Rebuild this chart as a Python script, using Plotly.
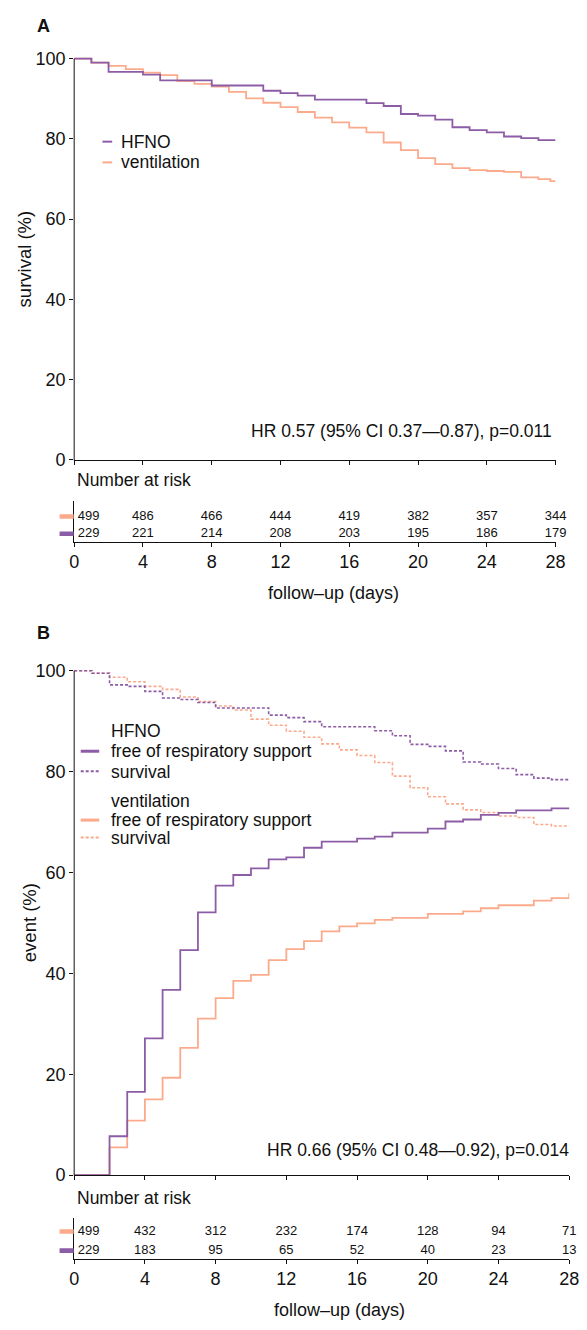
import plotly.graph_objects as go

W, H = 587, 1330
PURPLE = "#8D5CA6"
ORANGE = "#FCAA8C"
FONT = "Liberation Sans, Arial, sans-serif"
BLACK = "#111111"

day_ticks = [0, 4, 8, 12, 16, 20, 24, 28]
pct_ticks = [0, 20, 40, 60, 80, 100]

# ---------------- Panel A: survival ----------------
a_hfno_t = [0, 1, 2, 4, 5, 8, 11, 12, 13, 14, 17, 18, 19, 20, 21, 22, 23, 24, 25, 26, 27, 28]
a_hfno_s = [100, 99.0, 96.7, 96.0, 94.6, 93.3, 92.0, 91.4, 90.8, 89.8, 88.9, 88.2, 86.2,
            85.8, 84.8, 82.9, 82.2, 81.6, 80.6, 80.2, 79.7, 79.7]

a_vent_t = [0, 1, 2, 3, 4, 5, 6, 7, 8, 9, 10, 11, 12, 13, 14, 15, 16, 17, 18, 19, 20,
            21, 22, 23, 24, 25, 26, 27, 27.7, 28]
a_vent_s = [100, 99.0, 98.2, 97.4, 96.5, 95.9, 94.4, 93.7, 93.0, 91.7, 90.1, 89.0, 87.9,
            86.7, 85.3, 84.1, 82.8, 81.6, 79.1, 77.2, 75.2, 73.7, 72.7, 72.2, 72.0, 71.8,
            70.4, 70.0, 69.5, 69.5]

a_risk_vent = [499, 486, 466, 444, 419, 382, 357, 344]
a_risk_hfno = [229, 221, 214, 208, 203, 195, 186, 179]
a_hr_text = "HR 0.57 (95% CI 0.37\u20140.87), p=0.011"

# ---------------- Panel B: event ----------------
b_hfno_surv_t = [0, 1, 2, 3, 4, 5, 6, 7, 8, 11, 12, 13, 14, 17, 18, 19, 20, 21, 22, 23,
                 24, 25, 26, 27, 28]
b_hfno_surv = [100, 99.5, 97.2, 96.9, 95.9, 94.6, 94.3, 93.7, 92.6, 91.2, 90.7, 89.9,
               88.9, 88.1, 87.1, 85.4, 85.0, 84.1, 81.9, 81.5, 80.6, 79.4, 78.7, 78.4, 78.4]

b_vent_surv_t = list(range(0, 29))
b_vent_surv = [100, 99.5, 98.7, 97.8, 96.9, 96.3, 94.8, 93.9, 93.0, 92.2, 90.4, 89.2,
               88.0, 86.8, 85.5, 84.3, 83.2, 81.8, 79.1, 76.8, 75.0, 73.6, 72.4, 71.9,
               71.2, 70.9, 69.5, 69.2, 69.2]

b_hfno_free_t = [0, 2, 3, 4, 5, 6, 7, 8, 9, 10, 11, 12, 13, 14, 16, 17, 18, 20, 21, 22,
                 23, 24, 25, 27, 28]
b_hfno_free = [0, 7.7, 16.5, 27.1, 36.7, 44.6, 52.1, 57.4, 59.5, 60.8, 62.6, 63.0, 64.9,
               66.1, 66.7, 67.1, 67.9, 68.7, 70.1, 70.5, 71.4, 71.8, 72.3, 72.7, 72.9]

b_vent_free_t = [0, 2, 3, 4, 5, 6, 7, 8, 9, 10, 11, 12, 13, 14, 15, 16, 17, 18, 20, 22,
                 23, 24, 26, 27, 28]
b_vent_free = [0, 5.5, 10.8, 15.0, 19.3, 25.2, 31.0, 35.1, 38.5, 39.7, 42.6, 44.8, 46.4,
               48.3, 49.3, 49.9, 50.6, 51.0, 51.8, 52.3, 52.9, 53.5, 54.4, 54.9, 55.9]

b_risk_vent = [499, 432, 312, 232, 174, 128, 94, 71]
b_risk_hfno = [229, 183, 95, 65, 52, 40, 23, 13]
b_hr_text = "HR 0.66 (95% CI 0.48\u20140.92), p=0.014"


def fx(p):
    return p / W


def fy(p):
    return 1 - p / H


fig = go.Figure()


def curve(x, y, color, xa, ya, dash="solid", width=1.8):
    fig.add_trace(go.Scatter(
        x=x, y=y, mode="lines",
        line=dict(color=color, width=width, shape="hv", dash=dash),
        xaxis=xa, yaxis=ya, showlegend=False, hoverinfo="skip"))


def risk_rows(vent, hfno, xa, ya):
    pos = ["middle right"] + ["middle center"] * (len(day_ticks) - 1)
    for vals, row in ((vent, 2), (hfno, 1)):
        labels = [("\u00a0" if i == 0 else "") + str(v) for i, v in enumerate(vals)]
        fig.add_trace(go.Scatter(
            x=day_ticks, y=[row] * len(day_ticks), mode="text",
            text=labels, textposition=pos,
            textfont=dict(size=13, color=BLACK, family=FONT),
            xaxis=xa, yaxis=ya, showlegend=False, hoverinfo="skip", cliponaxis=False))


# Panel A curves
curve(a_vent_t, a_vent_s, ORANGE, "x", "y")
curve(a_hfno_t, a_hfno_s, PURPLE, "x", "y")
risk_rows(a_risk_vent, a_risk_hfno, "x2", "y2")

# Panel B curves
curve(b_vent_surv_t, b_vent_surv, ORANGE, "x3", "y3", dash="3px,2px", width=1.6)
curve(b_hfno_surv_t, b_hfno_surv, PURPLE, "x3", "y3", dash="3px,2px", width=1.6)
curve(b_vent_free_t, b_vent_free, ORANGE, "x3", "y3")
curve(b_hfno_free_t, b_hfno_free, PURPLE, "x3", "y3")
risk_rows(b_risk_vent, b_risk_hfno, "x4", "y4")

FS = 18
TS = 17.5
tickfont = dict(size=FS, color=BLACK, family=FONT)

main_x = dict(range=[0, 28], tickvals=day_ticks, ticks="outside", ticklen=4,
              tickcolor=BLACK, showticklabels=False, showline=True, linecolor=BLACK,
              linewidth=1, showgrid=False, zeroline=False, fixedrange=True)
main_y = dict(range=[0, 101], tickvals=pct_ticks, ticks="outside", ticklen=4,
              tickcolor=BLACK, tickfont=tickfont, showline=False, showgrid=False,
              zeroline=False, fixedrange=True)
tab_x = dict(range=[0, 28], tickvals=day_ticks, ticks="outside", ticklen=4,
             tickcolor=BLACK, tickfont=tickfont, showline=True, linecolor=BLACK,
             linewidth=1, showgrid=False, zeroline=False, fixedrange=True)
tab_y = dict(showticklabels=False, ticks="", showline=True, linecolor=BLACK, linewidth=1,
             showgrid=False, zeroline=False, fixedrange=True)

# pixel geometry
A_L, A_R = 71, 565
A_TOP, A_BOT = 49.2, 459.5
AT_TOP, AT_BOT = 501, 542.3
B_L, B_R = 71, 579
B_TOP, B_BOT = 667.7, 1183.3
BT_TOP, BT_BOT = 1227, 1268

fig.update_layout(
    width=W, height=H, margin=dict(l=0, r=0, t=0, b=0),
    paper_bgcolor="white", plot_bgcolor="white",
    font=dict(family=FONT, color=BLACK, size=FS),
    xaxis=dict(main_x, domain=[fx(A_L), fx(A_R)], anchor="y"),
    yaxis=dict(main_y, domain=[fy(A_BOT), fy(A_TOP)], anchor="x"),
    xaxis2=dict(tab_x, domain=[fx(A_L), fx(A_R)], anchor="y2"),
    yaxis2=dict(tab_y, domain=[fy(AT_BOT), fy(AT_TOP)], anchor="x2", range=[0.545, 2.89]),
    xaxis3=dict(main_x, domain=[fx(B_L), fx(B_R)], anchor="y3"),
    yaxis3=dict(main_y, domain=[fy(B_BOT), fy(B_TOP)], anchor="x3"),
    xaxis4=dict(tab_x, domain=[fx(B_L), fx(B_R)], anchor="y4"),
    yaxis4=dict(tab_y, domain=[fy(BT_BOT), fy(BT_TOP)], anchor="x4", range=[0.575, 2.70]),
)

shapes = []
# y-axis lines (from 0 to 100)
shapes.append(dict(type="line", xref="paper", yref="paper", x0=fx(A_L), x1=fx(A_L),
                   y0=fy(A_BOT + 0.5), y1=fy(53.3), line=dict(color=BLACK, width=1)))
shapes.append(dict(type="line", xref="paper", yref="paper", x0=fx(B_L), x1=fx(B_L),
                   y0=fy(B_BOT + 0.5), y1=fy(672.8), line=dict(color=BLACK, width=1)))

# risk-table colour keys
for ya, hh in (("y2", 0.13), ("y4", 0.12)):
    for r, c in ((2, ORANGE), (1, PURPLE)):
        shapes.append(dict(type="rect", xref="paper", yref=ya, x0=fx(56), x1=fx(70.5),
                           y0=r - hh, y1=r + hh, fillcolor=c, line=dict(width=0)))

# legend A
for yy, c in ((137.3, PURPLE), (158.3, ORANGE)):
    shapes.append(dict(type="line", xref="paper", yref="paper", x0=fx(100), x1=fx(110),
                       y0=fy(yy), y1=fy(yy), line=dict(color=c, width=2)))
# legend B
for yy, c, d, w in ((754.3, PURPLE, "solid", 3), (774.5, PURPLE, "3px,2px", 2),
                    (824.0, ORANGE, "solid", 3), (841.5, ORANGE, "3px,2px", 2)):
    shapes.append(dict(type="line", xref="paper", yref="paper", x0=fx(77.7), x1=fx(96.7),
                       y0=fy(yy), y1=fy(yy), line=dict(color=c, width=w, dash=d)))
fig.update_layout(shapes=shapes)

ann = []


def text(x, y, s, size=TS, anchor="left", bold=False, angle=0):
    ann.append(dict(xref="paper", yref="paper", x=fx(x), y=fy(y),
                    text=f"<b>{s}</b>" if bold else s,
                    showarrow=False, xanchor=anchor, yanchor="middle", textangle=angle,
                    font=dict(size=size, color=BLACK, family=FONT)))


text(39, 20, "A", size=18, anchor="center", bold=True)
text(40, 635, "B", size=18, anchor="center", bold=True)
text(20, 256, "survival (%)", size=18.5, anchor="center", angle=-90)
text(25, 928, "event (%)", size=18.5, anchor="center", angle=-90)
text(117, 137.3, "HFNO")
text(117, 158.3, "ventilation")
text(106.7, 734.3, "HFNO")
text(106.7, 754.3, "free of respiratory support")
text(106.7, 775, "survival")
text(106.7, 804.3, "ventilation")
text(106.7, 824, "free of respiratory support")
text(106.7, 841.7, "survival")
text(563, 430, a_hr_text, anchor="right")
text(581, 1158.3, b_hr_text, anchor="right")
text(72, 480, "Number at risk")
text(72, 1206.7, "Number at risk")
text(337, 594, "follow\u2013up (days)", size=18, anchor="center")
text(343, 1320, "follow\u2013up (days)", size=18, anchor="center")
fig.update_layout(annotations=ann)

fig.write_html(
    "out.html",
    config={"displayModeBar": False},
    post_script="document.body.style.margin='0';document.body.style.overflow='hidden';",
)
